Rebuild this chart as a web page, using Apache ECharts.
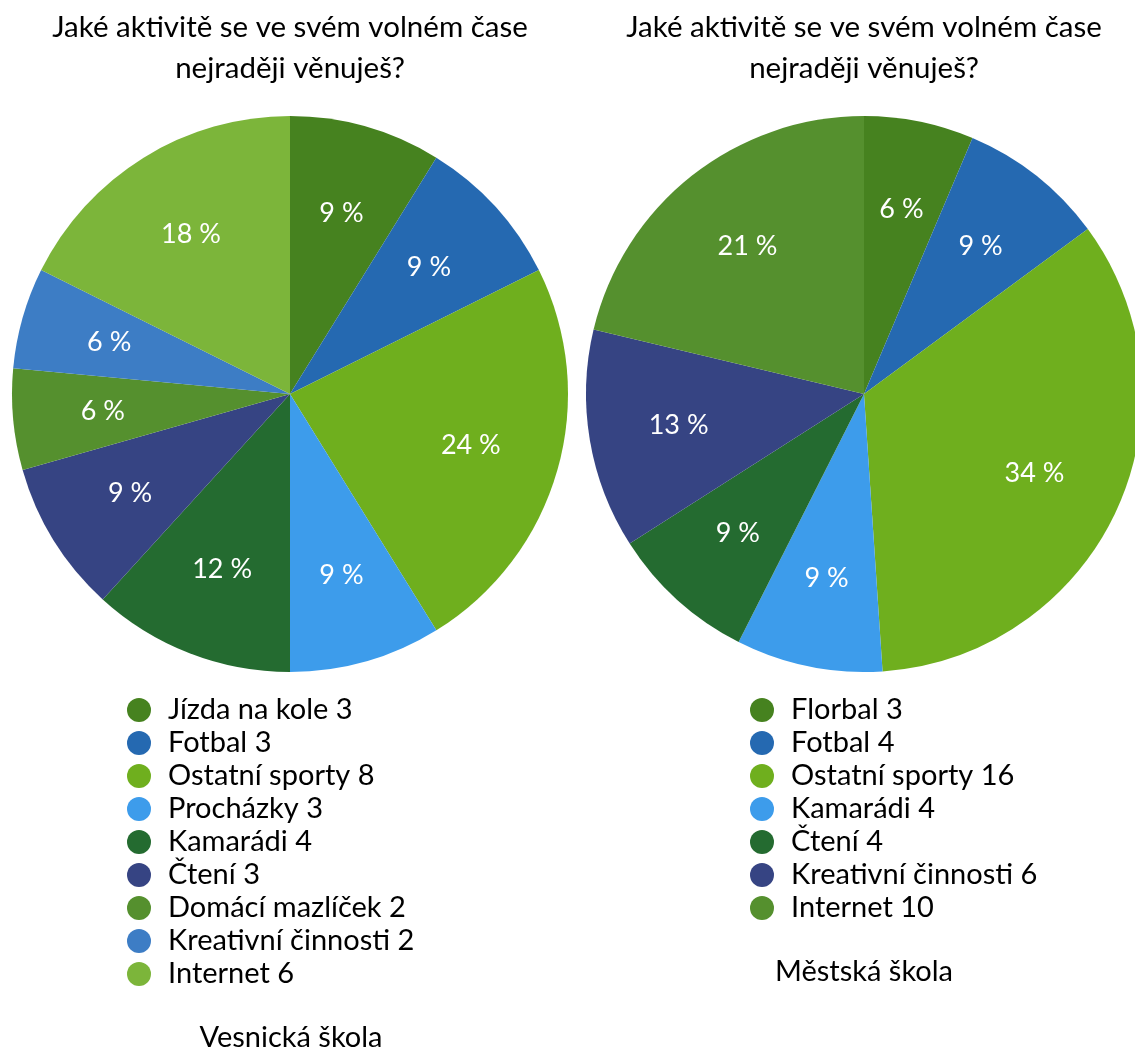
<!DOCTYPE html>
<html><head><meta charset="utf-8">
<script src="https://cdn.jsdelivr.net/npm/echarts@6/dist/echarts.min.js"></script>
<style>html,body{margin:0;padding:0;background:#fff}#c{width:1135px;height:1052px}</style>
</head><body><div id="c"></div>
<script>
const titleText = 'Jaké aktivitě se ve svém volném čase\nnejraději věnuješ?';
const leftCategories = ['Jízda na kole','Fotbal','Ostatní sporty','Procházky','Kamarádi','Čtení','Domácí mazlíček','Kreativní činnosti','Internet'];
const leftValues = [3,3,8,3,4,3,2,2,6];
const leftColors = ['#46821F','#2569B1','#6FAF1E','#3D9CEB','#246B30','#364483','#55902E','#3D7DC5','#7CB53A'];
const leftSubtitle = 'Vesnická škola';
const rightCategories = ['Florbal','Fotbal','Ostatní sporty','Kamarádi','Čtení','Kreativní činnosti','Internet'];
const rightValues = [3,4,16,4,4,6,10];
const rightColors = ['#46821F','#2569B1','#6FAF1E','#3D9CEB','#246B30','#364483','#55902E'];
const rightSubtitle = 'Městská škola';

const FONT = 'Lato';
function pct(vals){ const t = vals.reduce((a,b)=>a+b,0); return p => Math.round(p.value / t * 100) + ' %'; }
function pieSeries(cats, vals, cols, cx){
  const data = cats.map((n,i)=>({name:n, value:vals[i], itemStyle:{color:cols[i]}}));
  const dataT = cats.map((n,i)=>({name:n, value:vals[i], itemStyle:{color:'rgba(0,0,0,0)'}}));
  return [
    {type:'pie', center:[cx,394], radius:[0,278], startAngle:90, clockwise:true, silent:true, animation:false,
     label:{show:false}, labelLine:{show:false}, itemStyle:{borderWidth:0}, data:data},
    {type:'pie', center:[cx,394], radius:[0,370], startAngle:90, clockwise:true, silent:true, animation:false,
     label:{show:true, position:'inside', formatter:pct(vals), color:'#fff', fontFamily:FONT, fontSize:27},
     labelLine:{show:false}, itemStyle:{borderWidth:0}, data:dataT}
  ];
}
function legend(cats, vals, cols, left){
  return {orient:'vertical', left:left, top:693.5, padding:0, itemGap:0, itemWidth:24, itemHeight:24, icon:'circle',
    selectedMode:false,
    textStyle:{fontFamily:FONT, fontSize:29, color:'#000', lineHeight:33, padding:[0,0,0,12]},
    formatter: name => name + ' ' + vals[cats.indexOf(name)],
    data: cats.map((n,i)=>({name:n, icon:'circle', itemStyle:{color:cols[i]}}))};
}
const chart = echarts.init(document.getElementById('c'), null, {renderer:'canvas'});
chart.setOption({
  backgroundColor:'#fff',
  animation:false,
  title:[
    {text:titleText, left:285, top:1.5, textAlign:'center', textStyle:{fontFamily:FONT, fontSize:29.5, fontWeight:'normal', color:'#000', lineHeight:41}},
    {text:titleText, left:859, top:1.5, textAlign:'center', textStyle:{fontFamily:FONT, fontSize:29.5, fontWeight:'normal', color:'#000', lineHeight:41}},
    {text:leftSubtitle, left:286, top:1018, textAlign:'center', textStyle:{fontFamily:FONT, fontSize:29, fontWeight:'normal', color:'#000'}},
    {text:rightSubtitle, left:859, top:952.5, textAlign:'center', textStyle:{fontFamily:FONT, fontSize:29, fontWeight:'normal', color:'#000'}}
  ],
  legend:[legend(leftCategories,leftValues,leftColors,127), legend(rightCategories,rightValues,rightColors,750)],
  series:[...pieSeries(leftCategories,leftValues,leftColors,290), ...pieSeries(rightCategories,rightValues,rightColors,864)]
});
</script></body></html>
